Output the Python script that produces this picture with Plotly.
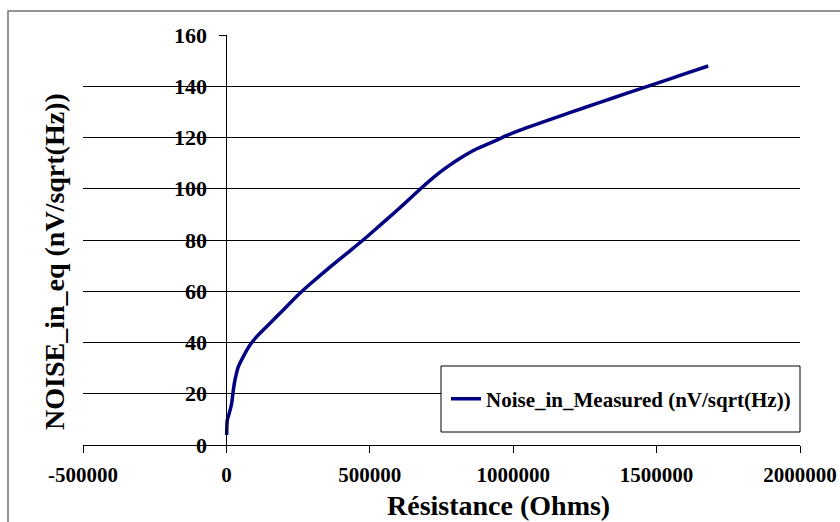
import plotly.graph_objects as go

# Data
resistance_ohms = [1000, 3100, 10000, 18400, 24200, 30000, 41700, 59000, 82300, 105600,
                   152000, 200000, 257000, 300000, 360000, 420000, 477000, 520000,
                   570000, 620000, 675000, 733000, 780000, 815000, 870000, 931000,
                   980000, 1024000, 1100000, 1200000, 1300000, 1400000, 1500000,
                   1600000, 1680000]
noise_measured = [3.9, 9.8, 12.4, 16.3, 21.5, 25.4, 30.6, 34.5, 39.0, 42.3,
                  47.5, 52.9, 59.3, 63.6, 69.3, 74.8, 80.0, 84.2,
                  89.1, 94.1, 99.8, 105.4, 109.3, 111.9, 115.4, 118.4,
                  120.9, 122.9, 125.9, 129.8, 133.6, 137.4, 141.1,
                  144.9, 147.9]

x_tickvals = [-500000, 0, 500000, 1000000, 1500000, 2000000]
x_ticktext = ["-500000", "0", "500000", "1000000", "1500000", "2000000"]
y_tickvals = [0, 20, 40, 60, 80, 100, 120, 140, 160]

series_name = "Noise_in_Measured (nV/sqrt(Hz))"
x_title = "Résistance (Ohms)"
y_title = "NOISE_in_eq (nV/sqrt(Hz))"

FONT = "Liberation Serif, Times New Roman, serif"
W, H = 840, 522
ML, MR, MT, MB = 83, 40, 35, 77
PW, PH = W - ML - MR, H - MT - MB


def px_x(px):
    return (px - ML) / PW


def px_y(py):
    return (H - MB - py) / PH


fig = go.Figure()
fig.add_trace(go.Scatter(
    x=resistance_ohms, y=noise_measured, mode="lines", name=series_name,
    line=dict(color="#000080", width=3.5, shape="spline", smoothing=0.6),
))

fig.update_layout(
    width=W, height=H,
    margin=dict(l=ML, r=MR, t=MT, b=MB, autoexpand=False),
    paper_bgcolor="white", plot_bgcolor="white",
    font=dict(family=FONT, size=22, color="black", weight="bold"),
    showlegend=True,
    legend=dict(
        x=px_x(446), y=px_y(399), xanchor="left", yanchor="middle",
        bgcolor="rgba(0,0,0,0)", borderwidth=0,
        font=dict(family=FONT, size=21, color="black", weight="bold"),
        itemwidth=30,
    ),
    xaxis=dict(
        range=[-500000, 2000000], tickvals=x_tickvals, ticktext=x_ticktext,
        showgrid=False, zeroline=False, showline=True, linecolor="black", linewidth=1,
        ticks="outside", ticklen=7, tickcolor="black", tickwidth=1,
        ticklabelstandoff=4, automargin=False,
        tickfont=dict(family=FONT, size=21, color="black", weight="bold"),
    ),
    yaxis=dict(
        range=[0, 160], tickvals=y_tickvals,
        anchor="free", position=0.2, automargin=False,
        showgrid=True, gridcolor="black", gridwidth=1,
        zeroline=False, showline=True, linecolor="black", linewidth=1,
        ticks="outside", ticklen=7, tickcolor="black", tickwidth=1,
        ticklabelstandoff=8,
        tickfont=dict(family=FONT, size=22, color="black", weight="bold"),
    ),
    shapes=[
        # outer chart border
        dict(type="rect", xref="paper", yref="paper",
             x0=px_x(8), x1=px_x(860), y0=px_y(540), y1=px_y(11),
             line=dict(color="#707070", width=1.5), fillcolor="rgba(0,0,0,0)", layer="below"),
        # legend box
        dict(type="rect", xref="paper", yref="paper",
             x0=px_x(441), x1=px_x(800), y0=px_y(432), y1=px_y(366),
             line=dict(color="black", width=1), fillcolor="white", layer="above"),
    ],
    annotations=[
        dict(text=x_title, xref="paper", yref="paper", x=px_x(498), y=px_y(506),
             xanchor="center", yanchor="middle", showarrow=False,
             font=dict(family=FONT, size=28, color="black", weight="bold")),
        dict(text=y_title, xref="paper", yref="paper", x=px_x(54), y=px_y(262),
             xanchor="center", yanchor="middle", showarrow=False, textangle=-90,
             font=dict(family=FONT, size=28, color="black", weight="bold")),
    ],
)

fig.write_html("out.html", config={"displayModeBar": False},
               post_script="document.body.style.margin='0';document.body.style.overflow='hidden';")
